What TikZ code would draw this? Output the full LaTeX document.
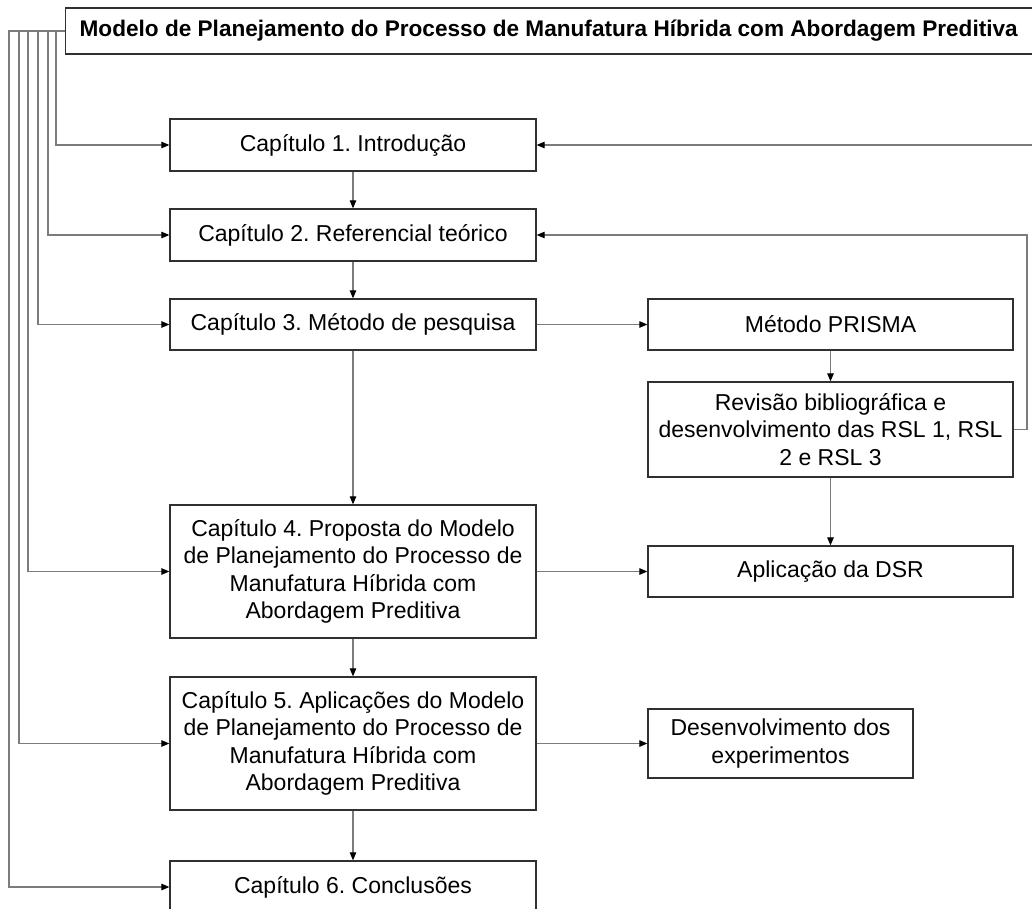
\documentclass[tikz,border=0pt]{standalone}
\usepackage{fontspec}
\setmainfont{Liberation Sans}
\frenchspacing
\usetikzlibrary{arrows.meta}
\definecolor{boxline}{HTML}{303030}
\definecolor{wire}{HTML}{7C7C7C}
\tikzset{
  box/.style={draw=boxline, line width=1.3pt, fill=white, align=center,
    font=\fontsize{23}{27.5}\selectfont, inner sep=0pt},
  conn/.style={draw=wire, line width=1.1pt,
    -{Triangle[length=8pt,width=6.5pt,color=black]}},
  plain/.style={draw=wire, line width=1.1pt}
}
\begin{document}
\begin{tikzpicture}[x=1pt,y=-1pt]
\useasboundingbox (0,0) rectangle (1032,908);
\fill[white] (0,0) rectangle (1032,908);

% title bar
\node[box, anchor=west, minimum height=46pt, inner xsep=14pt,
  font=\bfseries\fontsize{22.6}{27}\selectfont] (title) at (65,31)
  {\makebox[980pt][l]{Modelo de Planejamento do Processo de Manufatura Híbrida com Abordagem Preditiva}};

% chapter column
\node[box, minimum width=366pt, minimum height=52pt] (c1) at (353,145) {Capítulo 1. Introdução};
\node[box, minimum width=366pt, minimum height=52pt] (c2) at (353,235) {Capítulo 2. Referencial teórico};
\node[box, minimum width=366pt, minimum height=51pt] (c3) at (353,324.5) {Capítulo 3. Método de pesquisa};
\node[box, minimum width=366pt, minimum height=133pt] (c4) at (353,571.5)
  {Capítulo 4. Proposta do Modelo\\de Planejamento do Processo de\\Manufatura Híbrida com\\Abordagem Preditiva};
\node[box, minimum width=366pt, minimum height=133pt] (c5) at (353,743.5)
  {Capítulo 5. Aplicações do Modelo\\de Planejamento do Processo de\\Manufatura Híbrida com\\Abordagem Preditiva};
\node[box, minimum width=366pt, minimum height=52pt] (c6) at (353,887) {Capítulo 6. Conclusões};

% method column
\node[box, minimum width=365pt, minimum height=51pt] (prisma) at (830.5,324.5) {Método PRISMA};
\node[box, minimum width=365pt, minimum height=95pt] (rev) at (830.5,429.5)
  {Revisão bibliográfica e\\desenvolvimento das RSL 1, RSL\\2 e RSL 3};
\node[box, minimum width=365pt, minimum height=51pt] (dsr) at (830.5,571.5) {Aplicação da DSR};
\node[box, minimum width=265pt, minimum height=69pt] (exp) at (780.5,743.5)
  {Desenvolvimento dos\\experimentos};

% downward flow
\draw[conn] (c1) -- (c2);
\draw[conn] (c2) -- (c3);
\draw[conn] (c3) -- (c4);
\draw[conn] (c4) -- (c5);
\draw[conn] (c5) -- (c6);
\draw[conn] (prisma) -- (rev);
\draw[conn] (rev) -- (dsr);

% side links
\draw[conn] (c3.east) -- (prisma.west);
\draw[conn] (c4.east) -- (dsr.west);
\draw[conn] (c5.east) -- (exp.west);

% feedback loops on the right
\coordinate (back) at (1027,0);
\draw[conn] (rev.east) -- (rev.east -| back) |- (c2.east);
\coordinate (far) at (1045,145);
\draw[conn] (far) -- (c1.east);

% rails from the title to every chapter
\coordinate (l1) at (56,0);
\coordinate (l2) at (48,0);
\coordinate (l3) at (38,0);
\coordinate (l4) at (28,0);
\coordinate (l5) at (19,0);
\coordinate (l6) at (9,0);
\draw[conn] (title.west) -| (l1 |- c1.west) -- (c1.west);
\draw[conn] (title.west) -| (l2 |- c2.west) -- (c2.west);
\draw[conn] (title.west) -| (l3 |- c3.west) -- (c3.west);
\draw[conn] (title.west) -| (l4 |- c4.west) -- (c4.west);
\draw[conn] (title.west) -| (l5 |- c5.west) -- (c5.west);
\draw[conn] (title.west) -| (l6 |- c6.west) -- (c6.west);
\end{tikzpicture}
\end{document}
